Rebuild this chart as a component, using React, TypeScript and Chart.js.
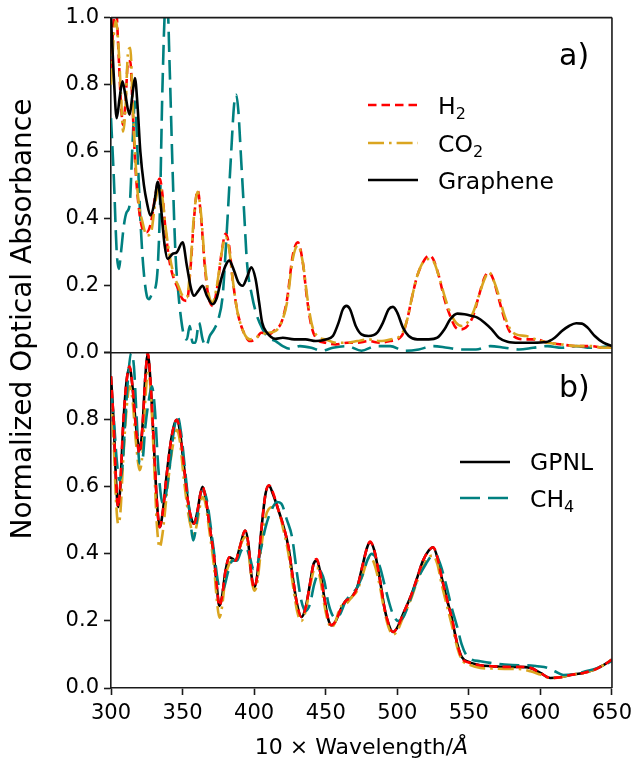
import React, { useEffect, useRef } from 'react';
import { Chart, registerables } from 'chart.js';

Chart.register(...registerables);

const FONT = '"DejaVu Sans", sans-serif';
const AXIS = '#1a1a1a';
const RED = '#ff0000';
const GOLD = '#daa520';
const TEAL = '#008080';
const BLACK = '#000000';

// ---------- x tick values ----------
const xTicks = [300, 350, 400, 450, 500, 550, 600, 650];
const yTicks = [0, 0.2, 0.4, 0.6, 0.8, 1.0];

// ---------- panel a) ----------
const wlGasTop = [300, 302, 303.5, 305, 307, 308.5, 310, 312, 313.5, 315, 317, 319, 322, 325, 328, 331, 334, 336, 338, 341, 344, 347, 350, 353, 355.5, 358, 360.5, 363, 365.5, 368, 371, 374, 377, 380, 382.5, 385, 388, 391, 394, 397, 401, 405, 410, 415, 419, 423, 427, 430.5, 434, 437, 440, 444, 450, 457, 465, 472, 480, 488, 495, 503, 507, 510, 514, 518, 522, 525, 529, 533, 537, 541, 545, 549, 553, 557, 561, 564, 567, 571, 575, 579, 583, 590, 597, 605, 615, 625, 635, 645, 650];
const absH2Top = [0.85, 1.0, 1.03, 0.92, 0.74, 0.68, 0.74, 0.87, 0.87, 0.74, 0.56, 0.45, 0.37, 0.36, 0.39, 0.47, 0.52, 0.47, 0.37, 0.27, 0.22, 0.19, 0.16, 0.155, 0.25, 0.40, 0.485, 0.40, 0.26, 0.17, 0.14, 0.19, 0.29, 0.355, 0.32, 0.22, 0.13, 0.08, 0.05, 0.035, 0.04, 0.06, 0.055, 0.07, 0.09, 0.16, 0.29, 0.33, 0.27, 0.16, 0.08, 0.04, 0.03, 0.025, 0.03, 0.03, 0.035, 0.03, 0.035, 0.05, 0.10, 0.16, 0.23, 0.27, 0.29, 0.28, 0.23, 0.16, 0.11, 0.075, 0.07, 0.08, 0.11, 0.17, 0.225, 0.24, 0.22, 0.16, 0.10, 0.06, 0.045, 0.04, 0.04, 0.03, 0.025, 0.02, 0.02, 0.015, 0.015];
const absCO2Top = [0.80, 0.95, 0.99, 0.93, 0.77, 0.66, 0.72, 0.90, 0.91, 0.76, 0.58, 0.46, 0.39, 0.35, 0.36, 0.45, 0.50, 0.46, 0.38, 0.29, 0.23, 0.20, 0.17, 0.165, 0.26, 0.41, 0.48, 0.41, 0.27, 0.18, 0.15, 0.20, 0.29, 0.345, 0.31, 0.22, 0.13, 0.08, 0.05, 0.04, 0.045, 0.055, 0.06, 0.065, 0.09, 0.15, 0.28, 0.32, 0.27, 0.17, 0.09, 0.05, 0.04, 0.03, 0.03, 0.035, 0.04, 0.035, 0.04, 0.055, 0.10, 0.16, 0.23, 0.27, 0.28, 0.275, 0.23, 0.17, 0.12, 0.09, 0.08, 0.09, 0.12, 0.17, 0.22, 0.24, 0.22, 0.17, 0.11, 0.07, 0.055, 0.05, 0.04, 0.03, 0.025, 0.02, 0.02, 0.015, 0.015];

const wlGraphene = [300, 302, 304, 306, 308, 310, 313, 315, 316.7, 318.5, 320.5, 323, 325, 327.5, 330, 332.7, 335, 337.5, 339.6, 343, 346, 350, 353, 356, 358, 361, 364, 367, 371, 374, 377, 380, 382.6, 386, 389, 392, 395, 398, 401, 403.5, 405.6, 409, 415, 420, 428, 436, 443, 450, 455, 459, 462, 464.5, 467, 471, 475, 480, 486, 490, 494, 497, 500, 504, 508, 514, 522, 528, 533, 537, 542, 547, 552, 556, 561, 566, 571, 577, 585, 595, 604, 610, 615, 620, 625, 629, 633, 638, 644, 650];
const absGraphene = [1.0, 0.82, 0.70, 0.76, 0.81, 0.77, 0.71, 0.77, 0.82, 0.74, 0.60, 0.50, 0.45, 0.41, 0.44, 0.51, 0.43, 0.32, 0.28, 0.295, 0.30, 0.33, 0.26, 0.19, 0.17, 0.185, 0.20, 0.17, 0.145, 0.165, 0.22, 0.26, 0.275, 0.245, 0.21, 0.20, 0.225, 0.255, 0.22, 0.15, 0.09, 0.06, 0.042, 0.045, 0.04, 0.04, 0.035, 0.04, 0.05, 0.09, 0.13, 0.14, 0.13, 0.08, 0.055, 0.05, 0.06, 0.09, 0.13, 0.137, 0.12, 0.075, 0.05, 0.04, 0.04, 0.045, 0.07, 0.10, 0.117, 0.115, 0.11, 0.105, 0.09, 0.07, 0.045, 0.033, 0.03, 0.03, 0.032, 0.045, 0.065, 0.08, 0.088, 0.087, 0.075, 0.05, 0.03, 0.02];

const wlCH4Top = [300, 302, 304, 305.5, 307, 309, 311, 313, 315, 316.7, 318.5, 320.5, 322.5, 325, 326.5, 329, 332, 334, 336, 338, 339.5, 341, 343, 345, 347, 349, 351, 353, 355, 357, 359, 361.5, 364, 366.5, 369, 372, 375, 378, 381, 384, 386, 387.5, 389, 391, 393, 395, 398.5, 402, 406, 410, 415, 420, 425, 432, 440, 447, 455, 465, 475, 485, 495, 505, 515, 525, 535, 545, 555, 565, 575, 585, 595, 605, 615, 625, 635, 650];
const absCH4Top = [0.70, 0.52, 0.30, 0.25, 0.30, 0.38, 0.42, 0.44, 0.62, 0.75, 0.60, 0.40, 0.26, 0.17, 0.16, 0.18, 0.22, 0.40, 0.80, 1.03, 1.03, 0.85, 0.55, 0.30, 0.18, 0.10, 0.05, 0.04, 0.08, 0.03, 0.03, 0.09, 0.04, 0.02, 0.05, 0.07, 0.10, 0.17, 0.37, 0.60, 0.74, 0.77, 0.72, 0.57, 0.42, 0.27, 0.17, 0.11, 0.07, 0.045, 0.035, 0.02, 0.012, 0.02, 0.015, 0.006, 0.015, 0.02, 0.006, 0.02, 0.02, 0.006, 0.01, 0.02, 0.015, 0.01, 0.01, 0.02, 0.015, 0.01, 0.015, 0.02, 0.015, 0.02, 0.015, 0.02];

// ---------- panel b) ----------
const wlBot = [300, 302, 303.5, 305, 306.5, 308.5, 311, 313, 315, 317.5, 320, 322, 324, 325.7, 327.5, 330, 332, 334, 336, 339, 342, 344.5, 346, 348, 351, 354, 356.5, 358, 360.5, 362.5, 364, 366, 369, 372, 374, 375.7, 377.5, 380, 382.6, 385, 387, 390, 393.7, 396, 398, 400, 402, 405, 408, 410.4, 413, 417, 420, 424, 427, 430, 433, 436, 439, 441.5, 443.8, 446, 449, 451.5, 454, 457, 460, 464, 468, 472, 476, 479, 481, 484, 488, 491, 494, 497, 500, 504, 510, 514, 518, 522, 525, 528, 531, 535, 538, 542, 545, 550, 558, 566, 575, 584, 593, 600, 607, 614, 621, 630, 637.5, 644, 650];
const absGPNL = [0.93, 0.78, 0.62, 0.54, 0.60, 0.78, 0.92, 0.955, 0.90, 0.78, 0.71, 0.78, 0.93, 0.995, 0.92, 0.72, 0.56, 0.48, 0.52, 0.64, 0.74, 0.79, 0.80, 0.77, 0.66, 0.55, 0.50, 0.49, 0.53, 0.58, 0.60, 0.57, 0.48, 0.39, 0.30, 0.245, 0.27, 0.35, 0.39, 0.385, 0.38, 0.42, 0.47, 0.43, 0.34, 0.30, 0.33, 0.47, 0.58, 0.604, 0.58, 0.53, 0.49, 0.42, 0.33, 0.25, 0.212, 0.24, 0.31, 0.37, 0.38, 0.35, 0.27, 0.21, 0.187, 0.20, 0.23, 0.26, 0.27, 0.30, 0.37, 0.42, 0.435, 0.41, 0.32, 0.24, 0.19, 0.167, 0.18, 0.22, 0.28, 0.33, 0.38, 0.41, 0.42, 0.39, 0.33, 0.26, 0.21, 0.13, 0.093, 0.078, 0.068, 0.065, 0.063, 0.063, 0.06, 0.045, 0.03, 0.032, 0.039, 0.045, 0.054, 0.068, 0.085];
const absH2Bot = [0.93, 0.78, 0.62, 0.54, 0.61, 0.79, 0.92, 0.96, 0.90, 0.77, 0.70, 0.78, 0.93, 1.0, 0.92, 0.72, 0.56, 0.48, 0.52, 0.64, 0.74, 0.79, 0.80, 0.77, 0.66, 0.55, 0.50, 0.49, 0.53, 0.58, 0.60, 0.57, 0.48, 0.39, 0.30, 0.245, 0.27, 0.35, 0.39, 0.385, 0.38, 0.42, 0.47, 0.43, 0.34, 0.30, 0.33, 0.47, 0.58, 0.605, 0.585, 0.53, 0.49, 0.42, 0.33, 0.25, 0.212, 0.24, 0.31, 0.37, 0.385, 0.35, 0.27, 0.21, 0.187, 0.20, 0.23, 0.26, 0.27, 0.30, 0.37, 0.42, 0.437, 0.41, 0.32, 0.24, 0.19, 0.167, 0.18, 0.22, 0.28, 0.33, 0.38, 0.41, 0.42, 0.39, 0.33, 0.26, 0.21, 0.13, 0.09, 0.076, 0.068, 0.065, 0.063, 0.063, 0.06, 0.045, 0.03, 0.032, 0.039, 0.045, 0.054, 0.068, 0.085];
const absCO2Bot = [0.88, 0.72, 0.56, 0.49, 0.52, 0.68, 0.84, 0.90, 0.86, 0.73, 0.65, 0.70, 0.86, 0.94, 0.90, 0.68, 0.49, 0.42, 0.46, 0.58, 0.69, 0.75, 0.77, 0.74, 0.62, 0.52, 0.47, 0.46, 0.50, 0.55, 0.57, 0.55, 0.46, 0.36, 0.26, 0.21, 0.24, 0.33, 0.37, 0.38, 0.38, 0.42, 0.45, 0.41, 0.33, 0.29, 0.31, 0.42, 0.51, 0.535, 0.54, 0.53, 0.48, 0.40, 0.31, 0.23, 0.20, 0.23, 0.30, 0.35, 0.36, 0.33, 0.25, 0.20, 0.18, 0.20, 0.24, 0.25, 0.27, 0.29, 0.34, 0.38, 0.39, 0.37, 0.30, 0.23, 0.18, 0.16, 0.17, 0.21, 0.27, 0.32, 0.36, 0.39, 0.395, 0.37, 0.31, 0.24, 0.19, 0.12, 0.085, 0.07, 0.06, 0.058, 0.057, 0.057, 0.05, 0.04, 0.03, 0.032, 0.039, 0.045, 0.054, 0.068, 0.085];

const wlCH4Bot = [300, 302, 304, 306, 308, 310, 312, 314, 316, 318, 320, 322, 324, 326.5, 328.5, 330.5, 333, 335, 336.5, 338.5, 341, 344, 346.5, 349, 352, 355, 357.5, 360, 362, 364.5, 367, 370, 373, 375, 377, 379, 382, 385, 388, 391, 394, 397, 399.5, 401.5, 404, 408, 412, 416, 419, 423, 426.5, 430, 433, 436, 439, 442, 446, 449, 452, 456.5, 460, 464, 468, 472, 476, 479, 482, 485, 488, 491, 494, 497, 500.7, 504, 508, 512, 516, 520, 524, 526.5, 530, 534, 538, 542, 545, 548, 552, 558, 565, 575, 585, 591, 598, 605, 610, 616, 622, 630, 640, 650];
const absCH4Bot = [0.88, 0.80, 0.68, 0.62, 0.66, 0.80, 0.93, 1.0, 0.96, 0.80, 0.67, 0.68, 0.78, 0.86, 0.90, 0.84, 0.66, 0.57, 0.55, 0.58, 0.66, 0.77, 0.81, 0.76, 0.64, 0.52, 0.44, 0.50, 0.57, 0.59, 0.56, 0.47, 0.37, 0.31, 0.29, 0.30, 0.35, 0.38, 0.38, 0.41, 0.42, 0.39, 0.355, 0.36, 0.40, 0.48, 0.53, 0.555, 0.55, 0.50, 0.45, 0.34, 0.26, 0.23, 0.25, 0.31, 0.35, 0.32, 0.25, 0.21, 0.22, 0.26, 0.28, 0.30, 0.34, 0.38, 0.40, 0.39, 0.36, 0.31, 0.26, 0.22, 0.20, 0.21, 0.25, 0.30, 0.34, 0.37, 0.395, 0.40, 0.37, 0.31, 0.24, 0.18, 0.13, 0.10, 0.085, 0.08, 0.075, 0.07, 0.068, 0.068, 0.065, 0.06, 0.05, 0.039, 0.04, 0.048, 0.06, 0.08];

const LW = 2.6;
const DASH_RED = [8.5, 5];
const DASH_GOLD = [16, 5, 2.6, 5];
const DASH_TEAL = [20, 8];

function pts(xs: number[], ys: number[]) {
  return xs.map((x, i) => ({ x, y: ys[i] }));
}

function drawSubText(ctx: CanvasRenderingContext2D, x: number, y: number, main: string, sub: string, size: number) {
  ctx.font = `${size}px ${FONT}`;
  ctx.fillText(main, x, y);
  const w = ctx.measureText(main).width;
  if (sub) {
    ctx.font = `${Math.round(size * 0.68)}px ${FONT}`;
    ctx.fillText(sub, x + w, y + size * 0.22);
  }
}

function legendLine(ctx: CanvasRenderingContext2D, x0: number, x1: number, y: number, color: string, dash: number[]) {
  ctx.save();
  ctx.strokeStyle = color;
  ctx.lineWidth = LW;
  ctx.setLineDash(dash);
  ctx.beginPath();
  ctx.moveTo(x0, y);
  ctx.lineTo(x1, y);
  ctx.stroke();
  ctx.restore();
}

const overlay = {
  id: 'overlay',
  afterDraw(chart: any) {
    const { ctx, chartArea } = chart;
    const yT = chart.scales.yTop;
    const yB = chart.scales.yBot;
    ctx.save();
    // frame
    ctx.strokeStyle = AXIS;
    ctx.lineWidth = 1.6;
    ctx.setLineDash([]);
    ctx.beginPath();
    ctx.moveTo(chartArea.left, yT.top);
    ctx.lineTo(chartArea.right, yT.top);
    ctx.moveTo(chartArea.right, yT.top);
    ctx.lineTo(chartArea.right, yB.bottom);
    ctx.moveTo(chartArea.left, yT.bottom);
    ctx.lineTo(chartArea.right, yT.bottom);
    ctx.stroke();

    ctx.fillStyle = '#000';
    ctx.textAlign = 'left';
    ctx.textBaseline = 'alphabetic';
    // panel labels
    ctx.font = `30px ${FONT}`;
    ctx.fillText('a)', 559, 65);
    ctx.fillText('b)', 559, 397);

    // legend a
    const LS = 23.5;
    legendLine(ctx, 368, 418, 105, RED, DASH_RED);
    legendLine(ctx, 368, 418, 143, GOLD, DASH_GOLD);
    legendLine(ctx, 368, 418, 180, BLACK, []);
    ctx.fillStyle = '#000';
    drawSubText(ctx, 438, 113.5, 'H', '2', LS);
    drawSubText(ctx, 438, 151.5, 'CO', '2', LS);
    drawSubText(ctx, 438, 188.5, 'Graphene', '', LS);

    // legend b
    legendLine(ctx, 460, 510, 462, BLACK, []);
    legendLine(ctx, 460, 510, 498, TEAL, DASH_TEAL);
    ctx.fillStyle = '#000';
    drawSubText(ctx, 530, 470, 'GPNL', '', LS);
    drawSubText(ctx, 530, 506.5, 'CH', '4', LS);

    // x title
    const TS = 22;
    ctx.font = `${TS}px ${FONT}`;
    const t1 = '10 × Wavelength/';
    const w1 = ctx.measureText(t1).width;
    ctx.font = `italic ${TS}px ${FONT}`;
    const w2 = ctx.measureText('Å').width;
    const cx = (chartArea.left + chartArea.right) / 2;
    const sx = cx - (w1 + w2) / 2;
    ctx.font = `${TS}px ${FONT}`;
    ctx.fillText(t1, sx, 754);
    ctx.font = `italic ${TS}px ${FONT}`;
    ctx.fillText('Å', sx + w1, 754);

    // y title
    ctx.translate(31, 319);
    ctx.rotate(-Math.PI / 2);
    ctx.font = `28px ${FONT}`;
    ctx.textAlign = 'center';
    ctx.fillText('Normalized Optical Absorbance', 0, 0);
    ctx.restore();
  },
};

function yScale(hideTop: boolean) {
  return {
    type: 'linear',
    position: 'left',
    stack: 'panels',
    stackWeight: 1,
    min: 0,
    max: 1,
    afterBuildTicks(s: any) {
      s.ticks = yTicks.map((v) => ({ value: v }));
    },
    afterFit(s: any) {
      s.width = 111;
    },
    ticks: {
      font: { family: FONT, size: 21 },
      color: '#000',
      padding: 5,
      callback: (v: number) => (hideTop && v > 0.99 ? '' : Number(v).toFixed(1)),
    },
    grid: { drawOnChartArea: false, drawTicks: true, tickLength: 7, tickWidth: 1.6, tickColor: AXIS },
    border: { display: true, color: AXIS, width: 1.6 },
  };
}

export default function App() {
  const ref = useRef<HTMLCanvasElement>(null);
  useEffect(() => {
    const canvas = ref.current;
    if (!canvas) return;
    const common = { pointRadius: 0, borderWidth: LW, fill: false, cubicInterpolationMode: 'monotone' };
    const chart = new Chart(canvas, {
      type: 'line',
      data: {
        datasets: [
          // panel a
          { ...common, label: 'Graphene', data: pts(wlGraphene, absGraphene), borderColor: BLACK, yAxisID: 'yTop', order: 0 },
          { ...common, label: 'CO2', data: pts(wlGasTop, absCO2Top), borderColor: GOLD, borderDash: DASH_GOLD, yAxisID: 'yTop', order: 1 },
          { ...common, label: 'H2', data: pts(wlGasTop, absH2Top), borderColor: RED, borderDash: DASH_RED, yAxisID: 'yTop', order: 2 },
          { ...common, label: 'CH4 (a)', data: pts(wlCH4Top, absCH4Top), borderColor: TEAL, borderDash: DASH_TEAL, yAxisID: 'yTop', order: 3 },
          // panel b
          { ...common, label: 'H2 (b)', data: pts(wlBot, absH2Bot), borderColor: RED, borderDash: DASH_RED, yAxisID: 'yBot', order: 4 },
          { ...common, label: 'CH4', data: pts(wlCH4Bot, absCH4Bot), borderColor: TEAL, borderDash: DASH_TEAL, yAxisID: 'yBot', order: 5 },
          { ...common, label: 'CO2 (b)', data: pts(wlBot, absCO2Bot), borderColor: GOLD, borderDash: DASH_GOLD, yAxisID: 'yBot', order: 6 },
          { ...common, label: 'GPNL', data: pts(wlBot, absGPNL), borderColor: BLACK, yAxisID: 'yBot', order: 7 },
        ] as any,
      },
      options: {
        animation: false,
        responsive: false,
        maintainAspectRatio: false,
        events: [],
        layout: { padding: { left: 0, right: 23, top: 16, bottom: 0 } },
        plugins: { legend: { display: false }, tooltip: { enabled: false }, title: { display: false } },
        scales: {
          x: {
            type: 'linear',
            position: 'bottom',
            min: 300,
            max: 650,
            afterBuildTicks(s: any) {
              s.ticks = xTicks.map((v) => ({ value: v }));
            },
            afterFit(s: any) {
              s.height = 77;
            },
            ticks: { font: { family: FONT, size: 21 }, color: '#000', padding: 6, maxRotation: 0, autoSkip: false },
            grid: { drawOnChartArea: false, drawTicks: true, tickLength: 7, tickWidth: 1.6, tickColor: AXIS },
            border: { display: true, color: AXIS, width: 1.6 },
          },
          yBot: yScale(true),
          yTop: yScale(false),
        } as any,
      },
      plugins: [overlay],
    } as any);
    return () => chart.destroy();
  }, []);
  return (
    <div style={{ position: 'fixed', left: 0, top: 0, width: 638, height: 765, background: '#fff' }}>
      <canvas ref={ref} width={638} height={765} style={{ display: 'block', width: 638, height: 765 }} />
    </div>
  );
}
